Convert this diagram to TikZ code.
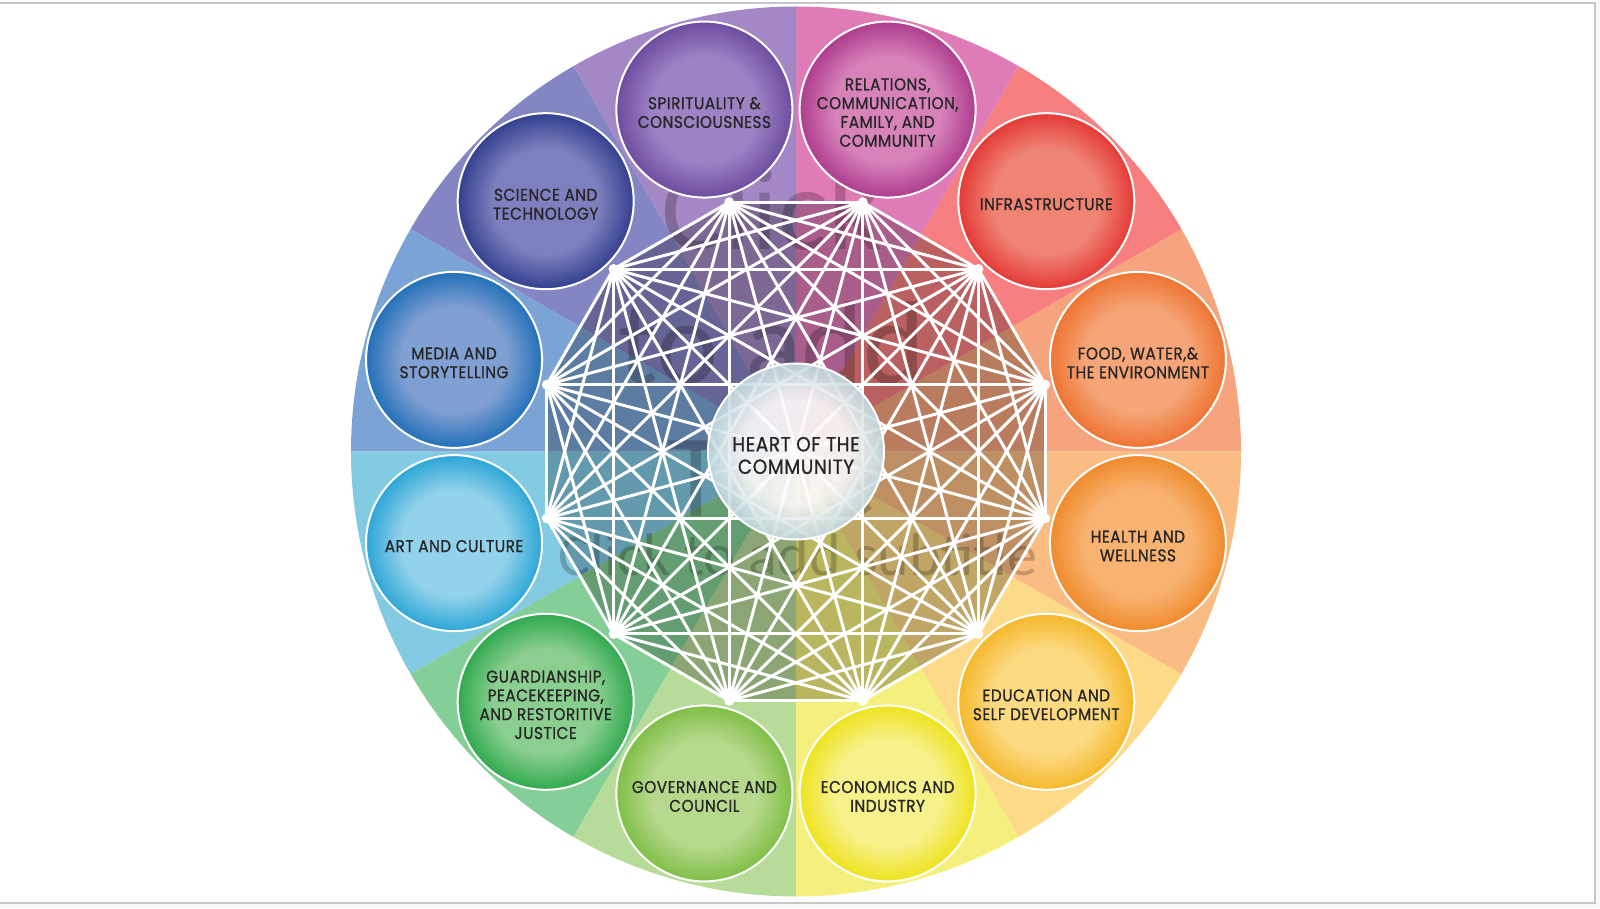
\documentclass[tikz,border=0pt]{standalone}
\usepackage{fontspec}
\newfontfamily\labfont{Poppins}[FakeStretch=0.9, FakeBold=0.9, LetterSpace=3]
\newfontfamily\wmfont{Carlito}
\definecolor{txt}{HTML}{262626}
\definecolor{tint}{HTML}{F6F7FB}
\definecolor{framec}{HTML}{C6C6CB}
% sector colours
\definecolor{s1}{HTML}{F5A47E}\definecolor{ci1}{HTML}{F5A577}\definecolor{co1}{HTML}{EE7432}
\definecolor{s2}{HTML}{F77F7F}\definecolor{ci2}{HTML}{EF8474}\definecolor{co2}{HTML}{E43A36}
\definecolor{s3}{HTML}{DF7BB6}\definecolor{ci3}{HTML}{D783BA}\definecolor{co3}{HTML}{AE3C8E}
\definecolor{s4}{HTML}{A488C5}\definecolor{ci4}{HTML}{9D83C4}\definecolor{co4}{HTML}{6C4CA0}
\definecolor{s5}{HTML}{8486C4}\definecolor{ci5}{HTML}{7E7FBE}\definecolor{co5}{HTML}{33408F}
\definecolor{s6}{HTML}{7BA3D5}\definecolor{ci6}{HTML}{809FD2}\definecolor{co6}{HTML}{2270B8}
\definecolor{s7}{HTML}{83CAE3}\definecolor{ci7}{HTML}{93D2EB}\definecolor{co7}{HTML}{2CA6D6}
\definecolor{s8}{HTML}{84CF97}\definecolor{ci8}{HTML}{8ACE90}\definecolor{co8}{HTML}{30A94F}
\definecolor{s9}{HTML}{B7DB99}\definecolor{ci9}{HTML}{B7D98E}\definecolor{co9}{HTML}{7FBF46}
\definecolor{s10}{HTML}{F5EF7E}\definecolor{ci10}{HTML}{F7F18C}\definecolor{co10}{HTML}{EEE31F}
\definecolor{s11}{HTML}{FDDA87}\definecolor{ci11}{HTML}{FCDA82}\definecolor{co11}{HTML}{F5B82B}
\definecolor{s12}{HTML}{FBBC83}\definecolor{ci12}{HTML}{F8B372}\definecolor{co12}{HTML}{F08B2C}
\definecolor{heartin}{HTML}{FDFBFB}
\definecolor{heartout}{HTML}{C2D9DF}
\colorlet{ballin}{white}
\colorlet{ballout}{gray}
\pgfdeclareradialshading[ballin,ballout]{myball}{\pgfpointorigin}{color(0bp)=(ballin); color(15bp)=(ballin); color(25bp)=(ballout); color(50bp)=(ballout)}
\begin{document}
\begin{tikzpicture}[x=1pt,y=1pt,
  lab/.style={font=\labfont\fontsize{17}{18.8}\selectfont, text=txt, align=center, inner sep=0pt},
  ball/.style={circle, minimum size=176pt, inner sep=0pt, draw=white, line width=2pt, shade, shading=myball},
  link/.style={white, line width=3pt},
  wm/.style={text=black, text opacity=0.22, inner sep=0pt, anchor=base},
]
\useasboundingbox (-796,451.5) rectangle (804,-456.5);
\fill[white] (-796,451.5) rectangle (804,-456.5);
\fill[tint] (799,451.5) rectangle (804,-456.5);
\fill[tint] (-796,-451.5) rectangle (804,-456.5);
\draw[framec, line width=2pt] (-800,448.5) -- (799,448.5) -- (799,-451.5) -- (-800,-451.5);
% sectors
\foreach \i in {1,...,12}{
  \pgfmathsetmacro\sa{30*(\i-1)}
  \fill[fill=s\i] (0,0) -- (\sa:445) arc[start angle=\sa, delta angle=30, radius=445] -- cycle;
}
% vertices
\foreach \i in {1,...,12} \coordinate (v\i) at ({30*\i-15}:258);
\fill[black, opacity=0.24] (v1) -- (v2) -- (v3) -- (v4) -- (v5) -- (v6) -- (v7) -- (v8) -- (v9) -- (v10) -- (v11) -- (v12) -- cycle;
% placeholder ghost text
\node[wm, font=\wmfont\fontsize{118}{130}\selectfont] (wm1) at (-24,201.5) {Click};
\node[wm, font=\wmfont\fontsize{118}{130}\selectfont] (wm2) at (-24,68.5) {to add};
\node[wm, font=\wmfont\fontsize{118}{130}\selectfont] (wm3) at (-24,-64.5) {Title};
\node[wm, font=\wmfont\fontsize{60}{66}\selectfont] (wm4) at (2,-123.5) {Click to add subtitle};
% complete graph
\foreach \i in {1,...,11}{
  \pgfmathtruncatemacro\nx{\i+1}
  \foreach \j in {\nx,...,12} \draw[link] (v\i) -- (v\j);
}
\foreach \i in {1,...,12} \fill[white] (v\i) circle (5);
% outer circles
\foreach \i/\t in {1/{FOOD, WATER,\&\\THE ENVIRONMENT},
                   2/{INFRASTRUCTURE},
                   3/{RELATIONS,\\COMMUNICATION,\\FAMILY, AND\\COMMUNITY},
                   4/{SPIRITUALITY \&\\CONSCIOUSNESS},
                   5/{SCIENCE AND\\TECHNOLOGY},
                   6/{MEDIA AND\\STORYTELLING},
                   7/{ART AND CULTURE},
                   8/{GUARDIANSHIP,\\PEACEKEEPING,\\AND RESTORITIVE\\JUSTICE},
                   9/{GOVERNANCE AND\\COUNCIL},
                   10/{ECONOMICS AND\\INDUSTRY},
                   11/{EDUCATION AND\\SELF DEVELOPMENT},
                   12/{HEALTH AND\\WELLNESS}}{
  \colorlet{ballin}{ci\i}\colorlet{ballout}{co\i}
  \node[ball] (c\i) at ({30*\i-15}:354) {};
  \node[lab] (t\i) at ([yshift=-3pt]c\i.center) {\t};
}
% heart
\colorlet{ballin}{heartin}\colorlet{ballout}{heartout}
\node[ball, fill opacity=0.9] (heart) at (0,0) {};
\node[font=\labfont\fontsize{20.5}{22.5}\selectfont, text=txt, align=center, inner sep=0pt] (hearttext) at ([yshift=-4pt]heart.center) {HEART OF THE\\COMMUNITY};
\end{tikzpicture}
\end{document}
